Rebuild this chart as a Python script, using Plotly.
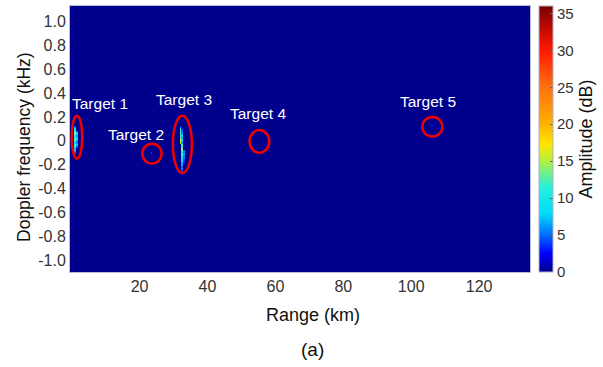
import numpy as np
import plotly.graph_objects as go

# ---- data ----
range_km = np.arange(-0.5, 135.01, 0.5)
doppler_khz = np.round(np.arange(-1.10, 1.1301, 0.01), 3)

# streaks of echo cells: column (range km), top doppler (kHz), amplitudes (dB) going down one row each
streak_range = [1.0, 1.5, 32.0, 32.5, 32.5, 33.0, 23.5, 3.5, 106.0]
streak_top = [0.12, 0.08, 0.12, 0.09, -0.03, -0.08, -0.10, 0.01, 0.13]
streak_amp = [
    [4, 6, 8, 10, 12, 14, 16, 13, 11, 9, 12, 15, 13, 10, 8, 11, 13, 10, 8, 7, 9, 6, 5, 4, 3],
    [5, 7, 9, 8, 6, 8, 10, 9, 7, 5, 6, 8, 6, 5, 4],
    [4, 6, 9, 12, 10, 13, 14, 11, 9, 12, 14, 15, 16, 17, 15],
    [4, 5, 6, 5, 7, 8, 6, 7, 9, 8, 7, 6],
    [13, 11, 10, 12, 14, 13, 11, 9, 10, 12, 11, 9, 8, 10, 9, 7, 6, 7, 6, 5, 6, 5, 4, 4, 3, 3],
    [5, 6, 5, 7, 6, 5, 6, 5, 4, 4, 3, 3],
    [4, 3, 2],
    [3, 2],
    [3, 2],
]

target_names = ["Target 1", "Target 2", "Target 3", "Target 4", "Target 5"]
label_range = [8.2, 18.8, 33.0, 55.0, 105.0]
label_doppler = [0.31, 0.05, 0.345, 0.227, 0.33]
ellipse_x0 = [0.0, 20.8, 29.8, 52.4, 103.3]
ellipse_x1 = [3.1, 26.5, 35.4, 58.2, 109.2]
ellipse_y0 = [-0.15, -0.19, -0.27, -0.10, 0.036]
ellipse_y1 = [0.21, -0.025, 0.21, 0.09, 0.20]

y_ticks = [-1.0, -0.8, -0.6, -0.4, -0.2, 0, 0.2, 0.4, 0.6, 0.8, 1.0]
y_ticktext = ["-1.0", "-0.8", "-0.6", "-0.4", "-0.2", "0", "0.2", "0.4", "0.6", "0.8", "1.0"]
x_ticks = [20, 40, 60, 80, 100, 120]
cbar_ticks = [0, 5, 10, 15, 20, 25, 30, 35]

# ---- build grid ----
z = np.zeros((len(doppler_khz), len(range_km)))
for rx, top, amps in zip(streak_range, streak_top, streak_amp):
    ix = int(np.argmin(np.abs(range_km - rx)))
    iy = int(np.argmin(np.abs(doppler_khz - top)))
    for k, a in enumerate(amps):
        z[iy - k, ix] = a

jet = [
    [0.0, "rgb(0,0,140)"],
    [0.07, "rgb(0,0,255)"],
    [0.14, "rgb(0,110,255)"],
    [0.22, "rgb(0,220,250)"],
    [0.32, "rgb(40,240,220)"],
    [0.42, "rgb(180,240,60)"],
    [0.48, "rgb(255,230,0)"],
    [0.56, "rgb(255,175,0)"],
    [0.70, "rgb(255,110,15)"],
    [0.84, "rgb(255,20,0)"],
    [1.0, "rgb(120,0,0)"],
]

FONT = "Liberation Sans, Arial"

fig = go.Figure()
fig.add_trace(go.Heatmap(
    x=range_km, y=doppler_khz, z=z,
    zmin=0, zmax=36, colorscale=jet,
    hoverinfo="skip",
    colorbar=dict(
        x=1.0196, xanchor="left", y=0.5, yanchor="middle",
        len=1.0, lenmode="fraction", thickness=14,
        outlinewidth=1, outlinecolor="#b0b0c0",
        tickvals=cbar_ticks, ticks="inside", ticklen=3, tickcolor="#666",
        tickfont=dict(family=FONT, size=15, color="#333"),
        xpad=0, ypad=0,
        title=dict(text="Amplitude (dB)", side="right",
                   font=dict(family=FONT, size=18, color="#111")),
    ),
))

for i in range(len(target_names)):
    fig.add_shape(type="circle", xref="x", yref="y",
                  x0=ellipse_x0[i], x1=ellipse_x1[i], y0=ellipse_y0[i], y1=ellipse_y1[i],
                  line=dict(color="rgb(240,0,0)", width=2.5))
    fig.add_annotation(x=label_range[i], y=label_doppler[i], text=target_names[i],
                       showarrow=False, xref="x", yref="y",
                       font=dict(family=FONT, size=15.5, color="white"))

fig.add_annotation(x=-0.1, y=0.47, xref="paper", yref="paper", text="Doppler frequency (kHz)",
                   textangle=-90, showarrow=False, xanchor="center", yanchor="middle",
                   font=dict(family=FONT, size=17.5, color="#111"))
fig.add_annotation(x=0.528, y=-0.162, xref="paper", yref="paper", text="Range (km)",
                   showarrow=False, xanchor="center", yanchor="middle",
                   font=dict(family=FONT, size=18, color="#111"))
fig.add_annotation(x=0.528, y=-0.29, xref="paper", yref="paper", text="(a)",
                   showarrow=False, xanchor="center", yanchor="middle",
                   font=dict(family=FONT, size=19, color="#111"))

fig.update_layout(
    width=603, height=367,
    margin=dict(l=70, r=73, t=6, b=95),
    paper_bgcolor="white", plot_bgcolor="rgb(0,0,140)",
    showlegend=False,
    xaxis=dict(range=[-0.5, 135], tickvals=x_ticks, showgrid=False, zeroline=False,
               ticks="", showline=True, linecolor="#b8bcd8", mirror=True, linewidth=1,
               tickfont=dict(family=FONT, size=16, color="#333")),
    yaxis=dict(range=[-1.1, 1.13], tickvals=y_ticks, ticktext=y_ticktext, showgrid=False,
               zeroline=False, ticks="", showline=True, linecolor="#b8bcd8", mirror=True, linewidth=1,
               tickfont=dict(family=FONT, size=16, color="#333")),
)

fig.write_html("out.html")
